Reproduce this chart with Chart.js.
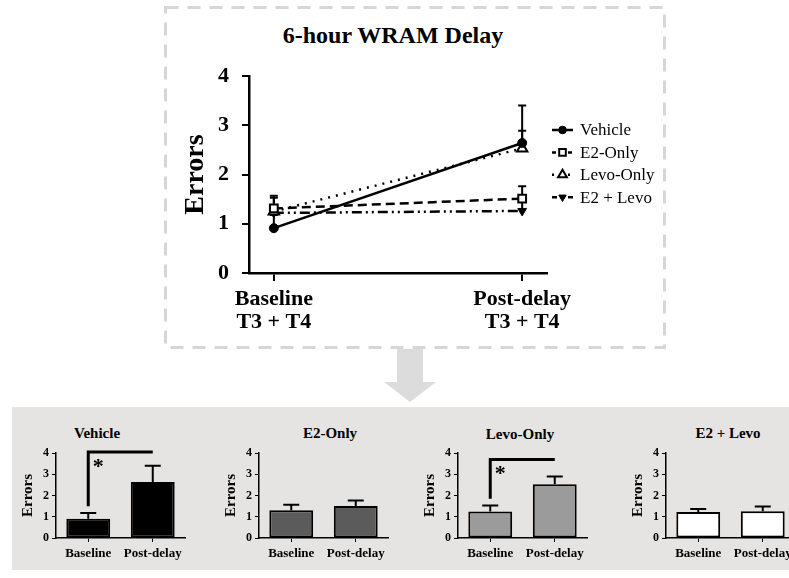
<!DOCTYPE html>
<html>
<head>
<meta charset="utf-8">
<script src="https://cdn.jsdelivr.net/npm/chart.js@4.4.1/dist/chart.umd.min.js"></script>
<style>
  body { margin: 0; width: 789px; height: 578px; overflow: hidden; background: #fff; position: relative; font-family: 'Liberation Serif', 'Times New Roman', serif; }
  .abs { position: absolute; }
  .ttl { position: absolute; font-weight: bold; line-height: 1; white-space: nowrap; transform: translateX(-50%); color: #000; }
</style>
</head>
<body>
<svg class="abs" style="left:0;top:0" width="789" height="578">
  <rect x="165.5" y="7.5" width="499" height="340" fill="none" stroke="#d6d6d6" stroke-width="3" stroke-dasharray="13 9"/>
  <polygon points="397,349 423,349 423,382 436,382 410,402 384,382 397,382" fill="#dcdcdc"/>
  <rect x="12" y="407" width="777" height="163" fill="#e6e3e3"/>
</svg>

<div class="ttl" style="left:393px; top:23px; font-size:24px;">6-hour WRAM Delay</div>
<div class="abs" style="left:168px; top:14px; width:495px; height:330px;"><canvas id="main"></canvas></div>

<div class="ttl" style="left:97px; top:426px; font-size:15px;">Vehicle</div>
<div class="ttl" style="left:330px; top:426px; font-size:15px;">E2-Only</div>
<div class="ttl" style="left:520px; top:427px; font-size:15px;">Levo-Only</div>
<div class="ttl" style="left:728px; top:426px; font-size:15px;">E2 + Levo</div>
<div class="abs" style="left:8px; top:420px; width:190px; height:150px;"><canvas id="bar0"></canvas></div>
<div class="abs" style="left:211px; top:420px; width:190px; height:150px;"><canvas id="bar1"></canvas></div>
<div class="abs" style="left:410px; top:420px; width:190px; height:150px;"><canvas id="bar2"></canvas></div>
<div class="abs" style="left:618px; top:420px; width:190px; height:150px;"><canvas id="bar3"></canvas></div>

<script>
// values (mean errors, one-sided SEM)
const phases = ['Baseline', 'Post-delay'];
const mainXLabels = [['Baseline', 'T3 + T4'], ['Post-delay', 'T3 + T4']];
const groups = ['Vehicle', 'E2-Only', 'Levo-Only', 'E2 + Levo'];
const vehicle = [0.91, 2.64];
const e2Only = [1.31, 1.51];
const levoOnly = [1.25, 2.53];
const e2Levo = [1.22, 1.26];
const vehicleSem = [0.27, 0.76];
const e2OnlySem = [0.26, 0.25];
const levoOnlySem = [0.28, 0.36];
const e2LevoSem = [0.15, 0.22];
const sigFrom = [1.5, null, 1.85, null];
const sigTop = [4.05, null, 3.7, null];

const barColors = ['#000000', '#5b5b5b', '#9b9b9b', '#ffffff'];

Chart.defaults.font.family = "'Liberation Serif', 'Times New Roman', serif";
Chart.defaults.color = '#000';

function toPoints(arr) {
  return arr.map((v, i) => ({ x: i, y: v }));
}

// error bars on the line chart (upward only)
const mainErrorBars = {
  id: 'mainErrorBars',
  beforeDatasetsDraw(chart) {
    const { ctx, scales: { x, y } } = chart;
    ctx.save();
    ctx.strokeStyle = '#000';
    ctx.lineWidth = 2;
    chart.data.datasets.forEach(ds => {
      ds.data.forEach((pt, i) => {
        const px = x.getPixelForValue(pt.x);
        const base = y.getPixelForValue(pt.y);
        const top = y.getPixelForValue(pt.y + ds.sem[i]);
        ctx.beginPath();
        ctx.moveTo(px, base); ctx.lineTo(px, top);
        ctx.moveTo(px - 4, top); ctx.lineTo(px + 4, top);
        ctx.stroke();
      });
    });
    ctx.restore();
  }
};

// legend with line style + marker
const mainLegend = {
  id: 'mainLegend',
  afterDraw(chart) {
    const ctx = chart.ctx;
    const x0 = 384, x1 = 405, tx = 412;
    ctx.save();
    chart.data.datasets.forEach((ds, i) => {
      const yy = 116 + i * 22.4;
      ctx.strokeStyle = '#000';
      ctx.lineWidth = ds.borderWidth;
      ctx.setLineDash(ds.legendDash || []);
      ctx.beginPath(); ctx.moveTo(x0, yy); ctx.lineTo(x1, yy); ctx.stroke();
      ctx.setLineDash([]);
      const o = chart.getDatasetMeta(i).data[0].options;
      ctx.fillStyle = o.backgroundColor;
      ctx.strokeStyle = o.borderColor;
      ctx.lineWidth = o.borderWidth;
      Chart.helpers.drawPoint(ctx, { pointStyle: o.pointStyle, rotation: o.rotation, radius: o.radius * 0.85, borderWidth: o.borderWidth }, (x0 + x1) / 2, yy);
      ctx.fillStyle = '#000';
      ctx.font = "17px 'Liberation Serif', serif";
      ctx.textBaseline = 'middle';
      ctx.fillText(ds.label, tx, yy + 1);
    });
    ctx.restore();
  }
};

new Chart(document.getElementById('main'), {
  type: 'line',
  data: {
    datasets: [
      { label: groups[0], data: toPoints(vehicle), sem: vehicleSem, borderColor: '#000', borderWidth: 2.5,
        pointStyle: 'circle', pointRadius: 4.5, pointBackgroundColor: '#000', pointBorderColor: '#000', pointBorderWidth: 1 },
      { label: groups[1], data: toPoints(e2Only), sem: e2OnlySem, borderColor: '#000', borderWidth: 2.5, borderDash: [9, 5], legendDash: [4, 4],
        pointStyle: 'rect', pointRadius: 5.5, pointBackgroundColor: '#fff', pointBorderColor: '#000', pointBorderWidth: 2 },
      { label: groups[2], data: toPoints(levoOnly), sem: levoOnlySem, borderColor: '#000', borderWidth: 2.5, borderDash: [2, 6], legendDash: [2, 6],
        pointStyle: 'triangle', pointRadius: 6, pointBackgroundColor: '#fff', pointBorderColor: '#000', pointBorderWidth: 2 },
      { label: groups[3], data: toPoints(e2Levo), sem: e2LevoSem, borderColor: '#000', borderWidth: 2.5, borderDash: [10, 4, 2, 4, 2, 4], legendDash: [5, 3],
        pointStyle: 'triangle', pointRotation: 180, pointRadius: 5, pointBackgroundColor: '#000', pointBorderColor: '#000', pointBorderWidth: 1 }
    ]
  },
  options: {
    animation: false,
    responsive: true,
    maintainAspectRatio: false,
    devicePixelRatio: 1,
    layout: { padding: { top: 62, right: 116, left: 0, bottom: 0 } },
    plugins: { legend: { display: false }, tooltip: { enabled: false } },
    scales: {
      x: {
        type: 'linear', min: -0.1, max: 1.1,
        afterBuildTicks: s => { s.ticks = phases.map((p, i) => ({ value: i })); },
        afterFit: s => { s.height = 71; },
        grid: { drawOnChartArea: false, tickLength: 8, color: '#000', lineWidth: 2 },
        border: { color: '#000', width: 2.5 },
        ticks: { font: { size: 22, weight: 'bold', lineHeight: 1.05 }, padding: 7, maxRotation: 0, autoSkip: false,
                 callback: v => mainXLabels[v] }
      },
      y: {
        min: 0, max: 4,
        afterFit: s => { s.width = 81; },
        ticks: { stepSize: 1, font: { size: 22, weight: 'bold' }, padding: 13 },
        grid: { drawOnChartArea: false, tickLength: 7, color: '#000', lineWidth: 2 },
        border: { color: '#000', width: 2.5 },
        title: { display: true, text: 'Errors', font: { size: 28, weight: 'bold' }, padding: { top: 11, bottom: 0 } }
      }
    }
  },
  plugins: [mainErrorBars, mainLegend]
});

// small bar charts
const barErrorBars = {
  id: 'barErrorBars',
  afterDatasetsDraw(chart) {
    const { ctx, scales: { y } } = chart;
    const ds = chart.data.datasets[0];
    ctx.save();
    ctx.strokeStyle = '#000';
    ctx.lineWidth = 2;
    chart.getDatasetMeta(0).data.forEach((bar, i) => {
      const top = y.getPixelForValue(ds.data[i] + ds.sem[i]);
      ctx.beginPath();
      ctx.moveTo(bar.x, bar.y); ctx.lineTo(bar.x, top);
      ctx.moveTo(bar.x - 8, top); ctx.lineTo(bar.x + 8, top);
      ctx.stroke();
    });
    if (ds.sigFrom != null) {
      const xa = chart.scales.x.getPixelForValue(0);
      const xb = chart.scales.x.getPixelForValue(1);
      const yb = y.getPixelForValue(ds.sigFrom);
      const yt = y.getPixelForValue(ds.sigTop);
      ctx.lineWidth = 3;
      ctx.beginPath();
      ctx.moveTo(xa, yb); ctx.lineTo(xa, yt); ctx.lineTo(xb, yt);
      ctx.stroke();
      ctx.fillStyle = '#000';
      ctx.font = "bold 22px 'Liberation Serif', serif";
      ctx.textAlign = 'center';
      ctx.textBaseline = 'alphabetic';
      ctx.fillText('*', xa + 10, yt + 21);
    }
    ctx.restore();
  }
};

const barValues = [vehicle, e2Only, levoOnly, e2Levo];
const barSems = [vehicleSem, e2OnlySem, levoOnlySem, e2LevoSem];

barValues.forEach((vals, k) => {
  new Chart(document.getElementById('bar' + k), {
    type: 'bar',
    data: {
      labels: phases,
      datasets: [{
        label: groups[k], data: vals, sem: barSems[k], sigFrom: sigFrom[k], sigTop: sigTop[k],
        backgroundColor: barColors[k], borderColor: '#000', borderWidth: 2, borderSkipped: false,
        barPercentage: 0.68, categoryPercentage: 1
      }]
    },
    options: {
      animation: false,
      responsive: true,
      maintainAspectRatio: false,
      devicePixelRatio: 1,
      layout: { padding: { top: 33, right: 13, left: 0, bottom: 0 } },
      plugins: { legend: { display: false }, tooltip: { enabled: false } },
      scales: {
        x: {
          afterFit: s => { s.height = 32; },
          grid: { drawOnChartArea: false, offset: false, tickLength: 4, color: '#000', lineWidth: 1 },
          border: { color: '#000', width: 1.5 },
          ticks: { font: { size: 13, weight: 'bold' }, padding: 4, maxRotation: 0 }
        },
        y: {
          min: 0, max: 4,
          afterFit: s => { s.width = 48; },
          ticks: { stepSize: 1, font: { size: 12, weight: 'bold' }, padding: 3 },
          grid: { drawOnChartArea: false, tickLength: 4, color: '#000', lineWidth: 1 },
          border: { color: '#000', width: 1.5 },
          title: { display: true, text: 'Errors', font: { size: 15, weight: 'bold' }, padding: { top: 11, bottom: 0 } }
        }
      }
    },
    plugins: [barErrorBars]
  });
});
</script>
</body>
</html>
